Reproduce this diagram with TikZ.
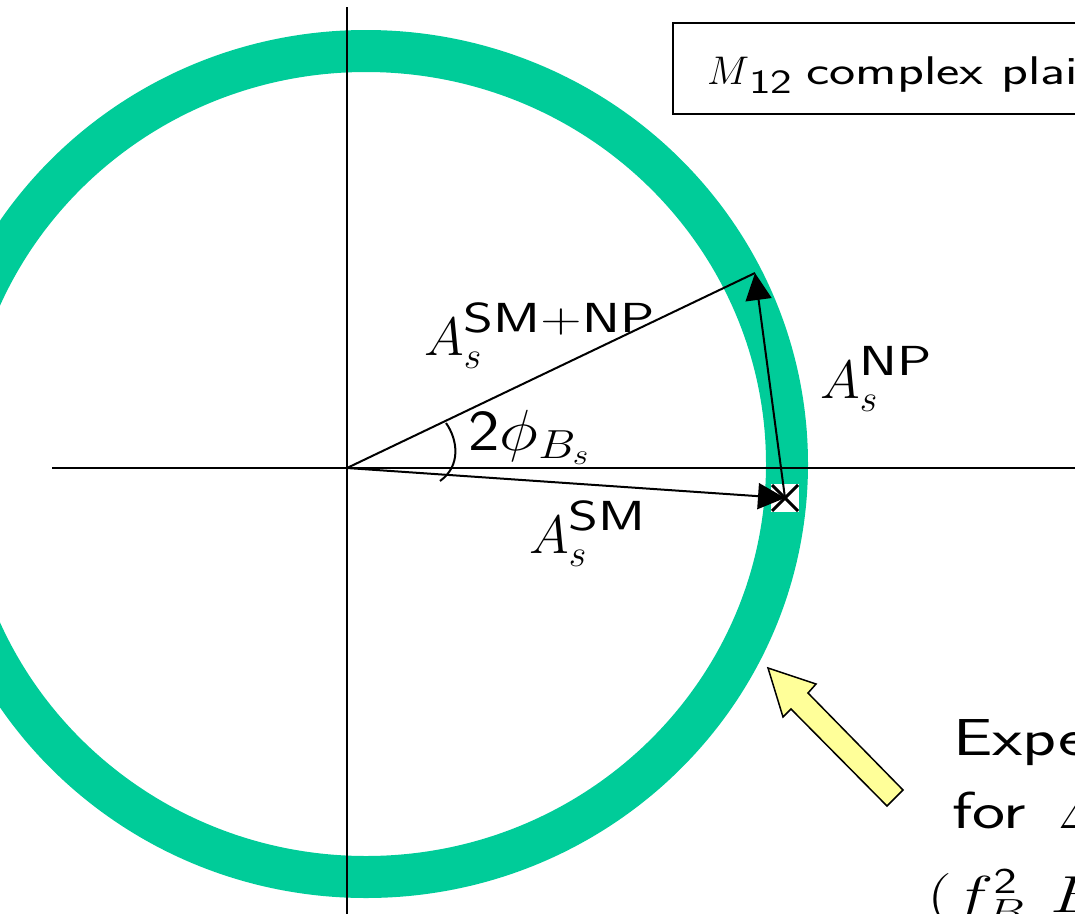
\RequirePackage{fix-cm}
\documentclass[tikz,border=0pt]{standalone}
\usetikzlibrary{arrows.meta}
\definecolor{ringgreen}{RGB}{0,204,153}
\definecolor{arrowyellow}{RGB}{255,255,153}
\newcommand\supsf[1]{\raisebox{3pt}{\scalebox{1.36}[1]{\fontsize{42}{44}\selectfont\sffamily #1}}}
\tikzset{
  axisline/.style={line width=2},
  vec/.style={line width=2},
  vhead/.style={vec,-{Triangle[length=27,width=26]}},
  lbl/.style={anchor=base west, inner sep=0, font=\fontsize{54}{60}\selectfont},
  boxfont/.style={anchor=base west, inner sep=0, font=\fontsize{40}{46}\selectfont},
  notefont/.style={anchor=base west, inner sep=0, font=\fontsize{52}{60}\selectfont\sffamily},
}
\begin{document}
\begin{tikzpicture}[x=1pt,y=-1pt]
\useasboundingbox (0,0) rectangle (1075,913);
\clip (0,0) rectangle (1075,913);
% ring
\draw[ringgreen, line width=42] (366,464) ellipse [x radius=421, y radius=413];
% axes
\coordinate (O) at (347,468);
\coordinate (axL) at (52,468);
\coordinate (axR) at (1090,468);
\coordinate (axT) at (347,7);
\coordinate (axB) at (347,925);
\draw[axisline] (axL) -- (axR);
\draw[axisline] (axT) -- (axB);
% SM point marker
\node[fill=white, minimum size=28, inner sep=0] (X) at (785,498) {};
\draw[line width=3] ([shift={(-13,-13)}]X.center) -- ([shift={(13,13)}]X.center);
\draw[line width=3] ([shift={(-13,13)}]X.center) -- ([shift={(13,-13)}]X.center);
% vectors
\coordinate (T) at (755,273);
\draw[vec] (O) -- (T);
\draw[vhead] (O) -- (X.center);
\draw[vhead] (X.center) -- (T);
% angle arc
\draw[vec] (446,423) .. controls (458,440) and (461,466) .. (440,481);
% labels
\node[lbl] (lsmnp) at (424,355) {$A_s^{\supsf{SM+NP}}$};
\node[lbl, font=\fontsize{58}{64}\selectfont, xscale=1.15] (lphi) at (468,450) {$\mathsf{2}\phi_{B_s}$};
\node[lbl] (lnp) at (820,398) {$A_s^{\supsf{NP}}$};
\node[lbl] (lsm) at (529,553) {$A_s^{\supsf{SM}}$};
% title box
\node[draw, line width=1.5, anchor=north west, minimum width=480, minimum height=91, inner sep=0] (box) at (672,22) {};
\node[boxfont] (boxtext) at (707,84) {$M$\raisebox{-9pt}{\scalebox{1.35}[1]{\fontsize{34}{36}\selectfont\sffamily 12}}\hspace{14pt}\scalebox{1.39}[1]{\sffamily complex plain}};
% yellow block arrow
\draw[line width=1.5, fill=arrowyellow, line join=miter]
  (768,668) -- (816,684) -- (808,693) -- (903,790) -- (887,806) -- (791,709) -- (783,717) -- cycle;
% note text
\node[notefont, xscale=1.35] (t1) at (953,755) {Experimental bound};
\node[notefont, xscale=1.35] (t2) at (952,828) {for\hspace{8pt} $\Delta M_s$};
\node[notefont, xscale=1.35] (t3) at (927,912) {$(f_{B_s}^{\mathsf{2}}\hspace{8pt} B_{B_s})$};
\end{tikzpicture}
\end{document}
